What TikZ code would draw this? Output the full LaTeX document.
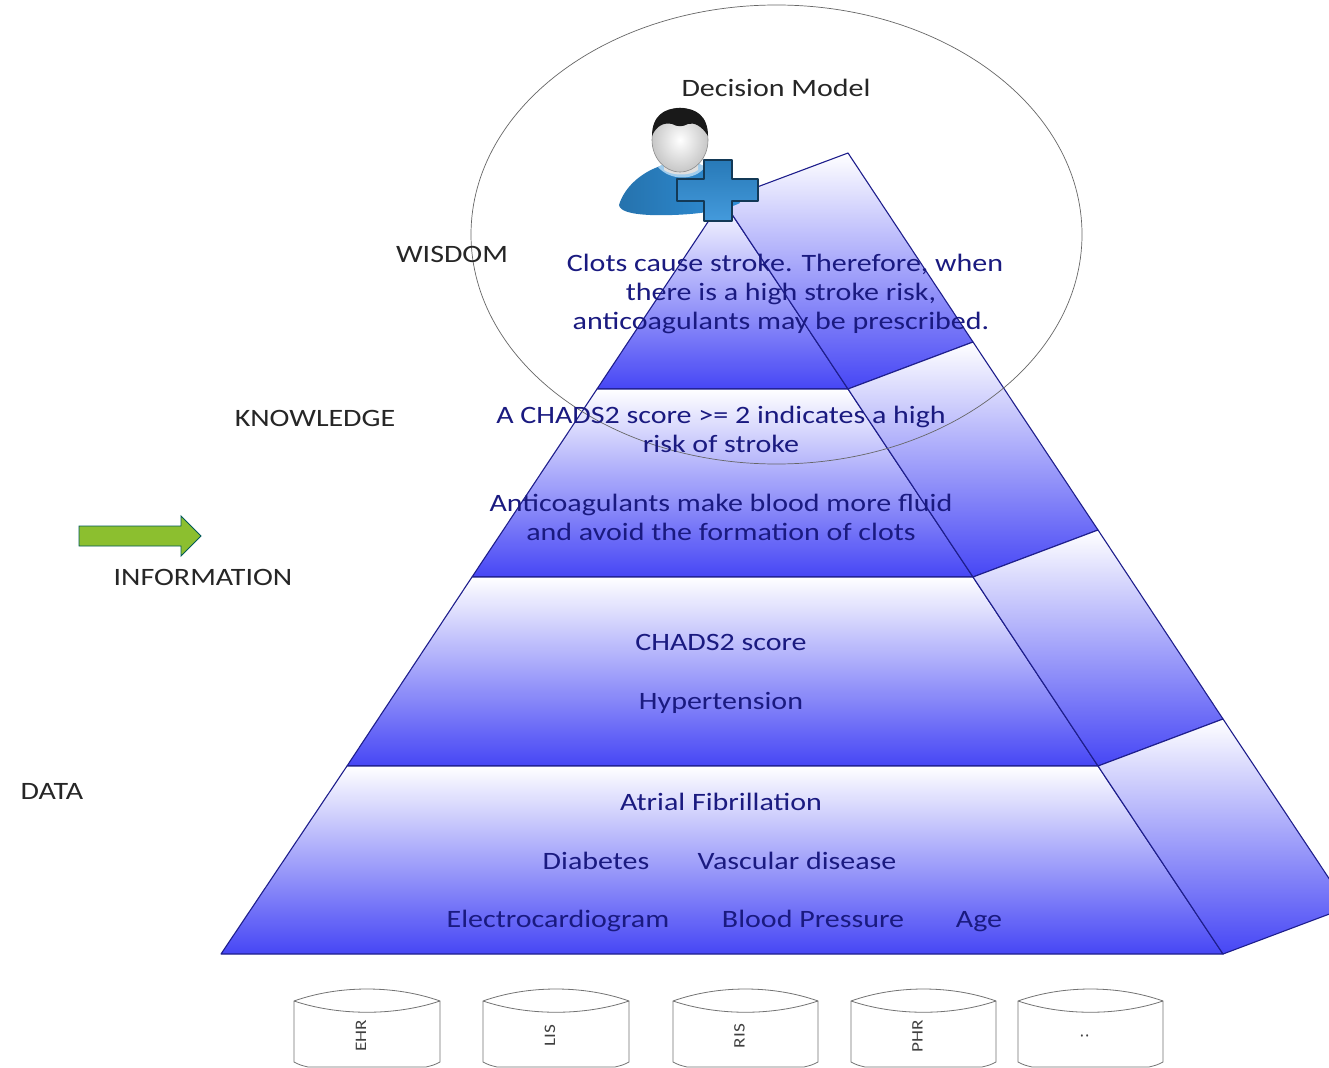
\documentclass[tikz,border=0pt]{standalone}
\usepackage{fontspec}
\setmainfont[FakeStretch=1.2]{Carlito}
\definecolor{edgeblue}{HTML}{1E1E8C}
\definecolor{faceblue}{HTML}{4646F5}
\definecolor{inkblue}{HTML}{1A1A80}
\definecolor{crossblue}{HTML}{2F8FD8}
\definecolor{arrowgreen}{HTML}{8CBF2F}
\tikzset{
  face/.style={draw=edgeblue,line width=1.1pt,line join=round,top color=white,bottom color=faceblue},
  pyrtextb/.style={anchor=base,text=inkblue,font=\fontsize{25}{29}\selectfont,inner sep=0pt},
  lvl/.style={anchor=base,text=black!85,font=\fontsize{25}{29}\selectfont,inner sep=0pt},
  db/.style={draw=black!55,line width=0.8pt,fill=white},
  dblabel/.style={rotate=90,text=black!75,font=\fontsize{16}{18}\selectfont,inner sep=0pt},
}
\newcommand{\dbcyl}[3]{%
  \draw[db] (#1,1001) .. controls (#1+45,985) and (#2-45,985) .. (#2,1001)
    -- (#2,1062) .. controls (#2-6,1065) .. (#2-14,1067) -- (#1+14,1067) .. controls (#1+6,1065) .. (#1,1062) -- cycle;
  \draw[db,fill=none] (#1,1001) .. controls (#1+45,1016) and (#2-45,1016) .. (#2,1001);
  \node[dblabel] (#3) at ({(#1+#2)/2-6},1036) {\csname lbl#3\endcsname};
}
\begin{document}
\begin{tikzpicture}[x=1pt,y=-1pt]
\useasboundingbox (0,0) rectangle (1329,1067);
\clip (0,0) rectangle (1329,1067);
\fill[white] (0,0) rectangle (1329,1067);
% front faces
\shade[face] (722.5,200) -- (848,389) -- (597,389) -- cycle;
\shade[face] (597,389) -- (848,389) -- (973,577) -- (472,577) -- cycle;
\shade[face] (472,577) -- (973,577) -- (1098,766) -- (347,766) -- cycle;
\shade[face] (347,766) -- (1098,766) -- (1223,954) -- (221,954) -- cycle;
% side faces
\shade[face] (722.5,200) -- (848,153) -- (973,342) -- (848,389) -- cycle;
\shade[face] (848,389) -- (973,342) -- (1098,530) -- (973,577) -- cycle;
\shade[face] (973,577) -- (1098,530) -- (1223,719) -- (1098,766) -- cycle;
\shade[face] (1098,766) -- (1223,719) -- (1348,907) -- (1223,954) -- cycle;
% decision ellipse
\draw[black!60,line width=0.7pt] (776.5,234.5) ellipse [x radius=305.5,y radius=229.5];
% person
\path[left color=crossblue!80!black,right color=crossblue,draw=none]
  (619,205) .. controls (625,185) and (645,170) .. (664,165)
  -- (700,165) .. controls (720,170) and (735,190) .. (740,203)
  .. controls (720,213) and (680,216) .. (650,215) .. controls (630,214) and (620,211) .. (619,205) -- cycle;
\fill[crossblue!45] (658,167) .. controls (670,181) and (695,181) .. (705,167) -- (698,163) -- (665,163) -- cycle;
\fill[black!12] (664,160) -- (698,160) -- (698,170) .. controls (690,176) and (672,176) .. (664,170) -- cycle;
\shade[inner color=white,outer color=black!22,draw=black!45,line width=0.6pt] (680,140) ellipse [x radius=28,y radius=32];
\fill[black!90] (652,136) .. controls (652,116) and (664,108) .. (680,108)
  .. controls (696,108) and (708,116) .. (708,136)
  .. controls (702,126) and (694,122) .. (688,124) .. controls (682,127) and (678,127) .. (672,124)
  .. controls (664,122) and (656,126) .. (652,136) -- cycle;
\draw[top color=crossblue!85!black,bottom color=crossblue!90!white,draw=black!60!crossblue,line width=1.1pt,line join=round]
  (704,160) -- (732,160) -- (732,179) -- (758,179) -- (758,201) -- (732,201) -- (732,221)
  -- (704,221) -- (704,201) -- (677,201) -- (677,179) -- (704,179) -- cycle;
% arrow
\draw[fill=arrowgreen,draw=teal!70!black,line width=0.9pt,line join=miter]
  (79,526) -- (181,526) -- (181,516) -- (201,536) -- (181,556) -- (181,546) -- (79,546) -- cycle;
% labels
\node[lvl] (title) at (776,97) {Decision Model};
\node[lvl] (wisdom) at (452,262) {WISDOM};
\node[lvl] (knowledge) at (315,426) {KNOWLEDGE};
\node[lvl] (information) at (203,585) {INFORMATION};
\node[lvl] (datal) at (52,799) {DATA};
% pyramid texts
\node[pyrtextb] (t1) at (785,271) {Clots cause stroke. Therefore, when};
\node[pyrtextb] (t2) at (781,300) {there is a high stroke risk,};
\node[pyrtextb] (t3) at (781,329) {anticoagulants may be prescribed.};
\node[pyrtextb] (t4) at (721,423) {A CHADS2 score >= 2 indicates a high};
\node[pyrtextb] (t5) at (721,452) {risk of stroke};
\node[pyrtextb] (t6) at (721,511) {Anticoagulants make blood more fluid};
\node[pyrtextb] (t7) at (721,540) {and avoid the formation of clots};
\node[pyrtextb] (t8) at (721,650) {CHADS2 score};
\node[pyrtextb] (t9) at (721,709) {Hypertension};
\node[pyrtextb] (t10) at (721,810) {Atrial Fibrillation};
\node[pyrtextb] (t11) at (596,869) {Diabetes};
\node[pyrtextb] (t12) at (797,869) {Vascular disease};
\node[pyrtextb] (t13) at (558,927) {Electrocardiogram};
\node[pyrtextb] (t14) at (813,927) {Blood Pressure};
\node[pyrtextb] (t15) at (979,927) {Age};
% databases
\def\lblEHR{EHR}\def\lblLIS{LIS}\def\lblRIS{RIS}\def\lblPHR{PHR}\def\lblDOTS{:}
\dbcyl{294}{440}{EHR}
\dbcyl{483}{629}{LIS}
\dbcyl{673}{818}{RIS}
\dbcyl{851}{996}{PHR}
\dbcyl{1018}{1163}{DOTS}
\end{tikzpicture}
\end{document}
